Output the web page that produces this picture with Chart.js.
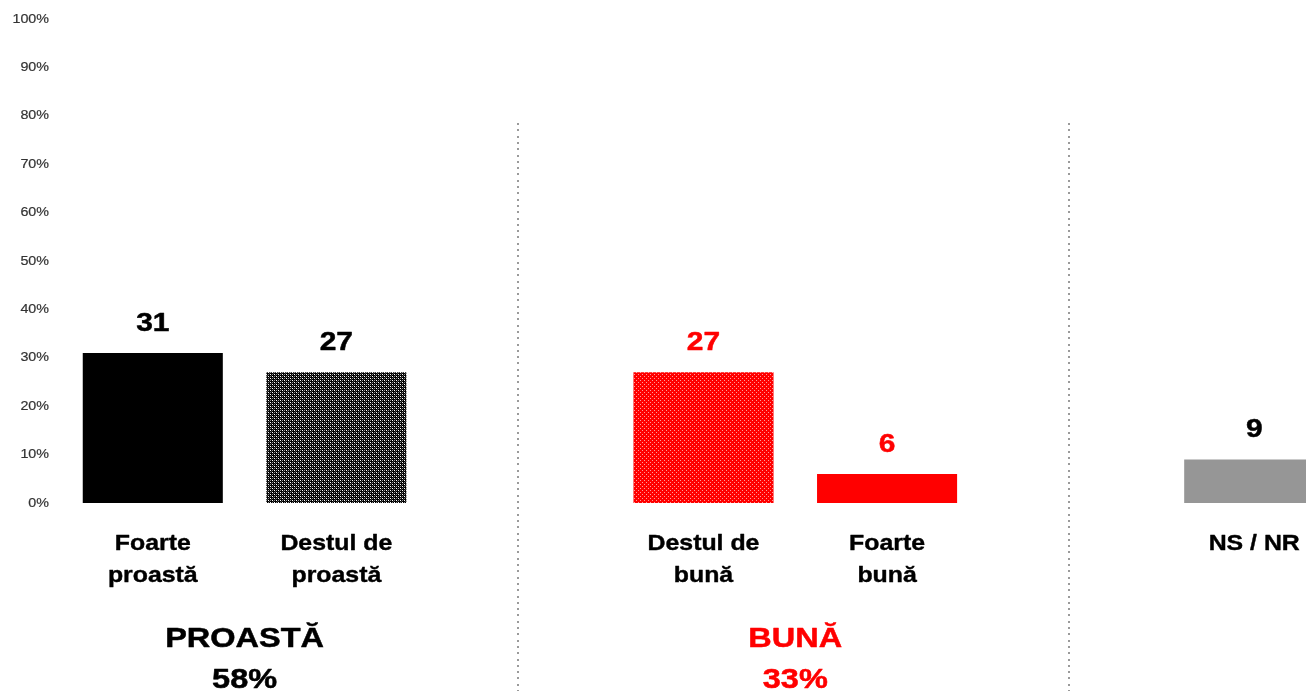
<!DOCTYPE html>
<html>
<head>
<meta charset="utf-8">
<script src="https://cdn.jsdelivr.net/npm/chart.js@4/dist/chart.umd.min.js"></script>
<style>
html, body { margin: 0; padding: 0; background: #fff; overflow: hidden; }
#wrap { width: 1346px; height: 691px; position: relative; }
</style>
</head>
<body>
<div id="wrap"><canvas id="grafico"></canvas></div>
<script>
// date
const categorii = [["Foarte", "proastă"], ["Destul de", "proastă"], "", ["Destul de", "bună"], ["Foarte", "bună"], "", "NS / NR"];
const valori = [31, 27, null, 27, 6, null, 9];
const culoriEticheta = ["#000", "#000", "#000", "#ff0000", "#ff0000", "#000", "#000"];
const yTicks = [0, 10, 20, 30, 40, 50, 60, 70, 80, 90, 100];

const grupuri = ["PROASTĂ", "BUNĂ"];
const totaluri = ["58%", "33%"];
const grupIndex = [[0, 1], [3, 4]];
const grupCulori = ["#000", "#ff0000"];
const separatori = [2, 5];
const separatorStart = 78.5; // in % pe axa y

const FONT = "'Liberation Sans', Arial, sans-serif";

function modelPunctat(baza, alb, deschis, mediu){
  let c = document.createElement("canvas");
  c.width = 4; c.height = 4;
  let x = c.getContext("2d");
  x.fillStyle = baza; x.fillRect(0, 0, 4, 4);
  if (mediu){
    x.fillStyle = mediu;
    x.fillRect(1, 1, 1, 1); x.fillRect(3, 3, 1, 1);
  }
  if (deschis){
    x.fillStyle = deschis;
    x.fillRect(2, 0, 1, 1); x.fillRect(0, 2, 1, 1);
  }
  x.fillStyle = alb;
  x.fillRect(0, 0, 1, 1); x.fillRect(2, 2, 1, 1);
  return document.getElementById("grafico").getContext("2d").createPattern(c, "repeat");
}

const culoriBare = [
  "#000000",
  modelPunctat("#000000", "#ffffff", "#909090", "#404040"),
  "#000",
  modelPunctat("#ff0000", "#ff9a9a", null, null),
  "#ff0000",
  "#000",
  "#969696"
];

function textLat(ctx, txt, x, y, font, color, align, sx, gros){
  ctx.save();
  ctx.translate(x, y);
  ctx.scale(sx, 1);
  ctx.font = font;
  ctx.fillStyle = color;
  ctx.textAlign = align || "center";
  ctx.fillText(txt, 0, 0);
  if (gros){
    ctx.strokeStyle = color;
    ctx.lineWidth = gros;
    ctx.lineJoin = "round";
    ctx.strokeText(txt, 0, 0);
  }
  ctx.restore();
}

const extraPlugin = {
  id: "extra",
  afterDatasetsDraw(chart){
    let ctx = chart.ctx;
    let xs = chart.scales.x;
    let ys = chart.scales.y;
    let meta = chart.getDatasetMeta(0);

    ctx.save();
    ctx.textBaseline = "middle";
    // etichete axa y
    yTicks.forEach(v => {
      textLat(ctx, v + "%", 49, ys.getPixelForValue(v), "13px " + FONT, "#333", "right", 1.1, 0.2);
    });

    ctx.textBaseline = "alphabetic";
    // etichete categorii
    categorii.forEach((lab, i) => {
      let linii = Array.isArray(lab) ? lab : [lab];
      linii.forEach((l, j) => {
        if (!l) return;
        textLat(ctx, l, xs.getPixelForValue(i), ys.bottom + 47 + j * 32, "bold 22px " + FONT, "#000", "center", 1.13, 0.4);
      });
    });

    // valori deasupra barelor
    meta.data.forEach((bar, i) => {
      if (valori[i] == null) return;
      textLat(ctx, String(valori[i]), bar.x, bar.y - 22, "bold 26px " + FONT, culoriEticheta[i], "center", 1.15, 0.5);
    });

    // separatori punctati
    ctx.fillStyle = "#9a9a9a";
    separatori.forEach(idx => {
      let x = Math.round(xs.getPixelForValue(idx)) - 3;
      for(let y = ys.getPixelForValue(separatorStart); y < chart.height; y += 6.3){
        ctx.fillRect(x, Math.round(y), 2, 2);
      }
    });

    // titluri grupuri
    grupuri.forEach((g, k) => {
      let a = xs.getPixelForValue(grupIndex[k][0]);
      let b = xs.getPixelForValue(grupIndex[k][1]);
      let cx = (a + b) / 2;
      textLat(ctx, g, cx, ys.bottom + 144, "bold 28px " + FONT, grupCulori[k], "center", 1.16, 0.5);
      textLat(ctx, totaluri[k], cx, ys.bottom + 185, "bold 28px " + FONT, grupCulori[k], "center", 1.16, 0.5);
    });
    ctx.restore();
  }
};

new Chart(document.getElementById("grafico"), {
  type: "bar",
  data: {
    labels: categorii,
    datasets: [{
      data: valori,
      backgroundColor: culoriBare,
      borderWidth: 0,
      barPercentage: 0.763,
      categoryPercentage: 1
    }]
  },
  options: {
    responsive: true,
    maintainAspectRatio: false,
    animation: false,
    layout: { padding: { top: 19, left: 0, right: 0, bottom: 0 } },
    plugins: {
      legend: { display: false },
      tooltip: { enabled: false }
    },
    scales: {
      x: {
        grid: { display: false, drawTicks: false },
        border: { display: false },
        afterFit(s){ s.height = 188; },
        ticks: { display: false, autoSkip: false }
      },
      y: {
        min: 0,
        max: 100,
        grid: { display: false, drawTicks: false },
        border: { display: false },
        afterFit(s){ s.width = 61; },
        afterBuildTicks(s){ s.ticks = yTicks.map(v => ({ value: v })); },
        ticks: { display: false }
      }
    }
  },
  plugins: [extraPlugin]
});
</script>
</body>
</html>
